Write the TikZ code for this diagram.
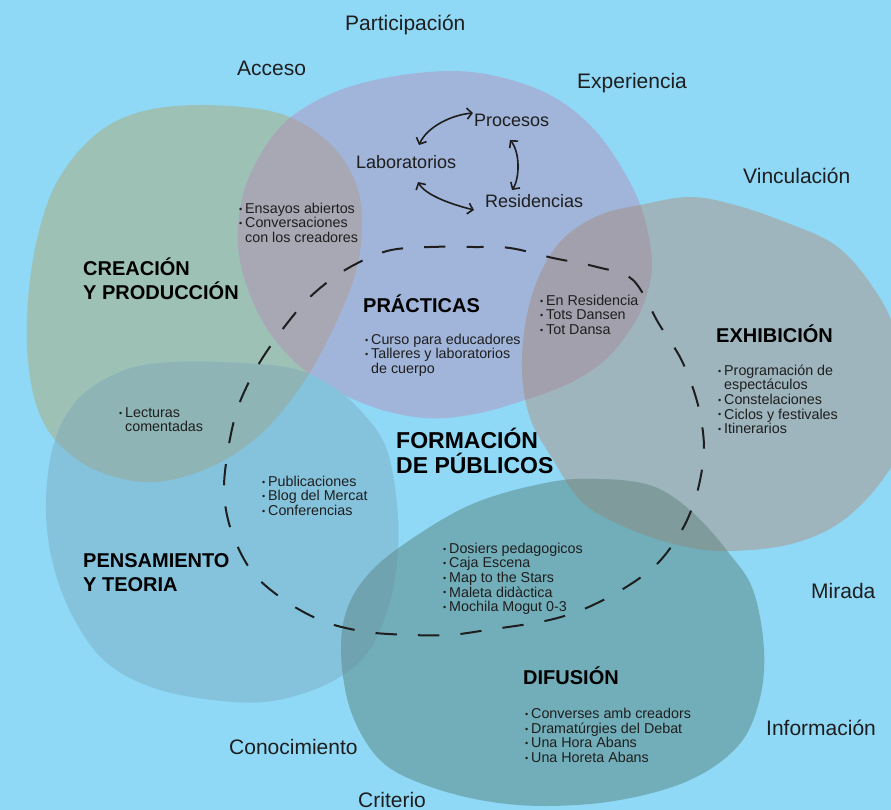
\documentclass[tikz,border=0pt]{standalone}
\usepackage{fontspec}
\setmainfont{Liberation Sans}
\usetikzlibrary{arrows.meta,calc}
\definecolor{bg}{HTML}{8FD8F6}
\definecolor{cgreen}{HTML}{9DC2B5}
\definecolor{cpurple}{HTML}{A1B4D9}
\definecolor{cgray}{HTML}{9EB5BD}
\definecolor{cblue}{HTML}{85C3DD}
\definecolor{cteal}{HTML}{72AEB9}
\definecolor{ogp}{HTML}{A8A8B4}
\definecolor{opg}{HTML}{A3A0AE}
\definecolor{ogb}{HTML}{8EB4B6}
\definecolor{ogt}{HTML}{7F9B9B}
\definecolor{obt}{HTML}{6FA3AF}
\definecolor{ink}{HTML}{1E1E1E}
\newcommand\bu{\makebox[6pt][l]{\raisebox{1.2pt}{\fontsize{9}{9}\selectfont •}}}
\newcommand\ind{\hspace*{6pt}}
\newcommand\sbl{\rule{0pt}{11pt}}
\newcommand\stt{\rule{0pt}{19pt}}
\def\pgreen{plot[smooth cycle,tension=0.6] coordinates {(200,105) (270,111) (310,128) (340,155) (358,190) (362,230) (355,275) (335,325) (305,380) (265,430) (215,465) (155,482) (100,472) (60,445) (38,410) (28,360) (28,300) (38,235) (58,180) (95,135) (140,112)}}
\def\ppurple{plot[smooth cycle,tension=0.6] coordinates {(290,118) (335,92) (390,77) (450,71) (500,77) (550,95) (590,125) (620,165) (642,210) (652,262) (645,300) (630,330) (605,360) (570,383) (525,400) (475,414) (425,418) (370,406) (315,378) (275,340) (250,295) (238,245) (243,195) (262,152)}}
\def\pgray{plot[smooth cycle,tension=0.6] coordinates {(640,205) (690,197) (735,205) (785,222) (835,245) (870,283) (895,330) (910,400) (895,460) (850,515) (795,543) (724,551) (670,543) (616,523) (580,500) (552,458) (530,418) (522,370) (527,315) (542,270) (565,237) (600,215)}}
\def\pblue{plot[smooth cycle,tension=0.6] coordinates {(220,362) (290,368) (330,385) (360,410) (385,445) (396,495) (398,550) (389,605) (368,652) (333,681) (283,699) (233,702) (160,690) (107,663) (73,617) (52,560) (46,500) (55,440) (80,397) (120,372) (160,363)}}
\def\pteal{plot[smooth cycle,tension=0.6] coordinates {(545,483) (598,479) (652,486) (692,512) (728,552) (753,590) (764,650) (759,702) (738,746) (690,780) (620,800) (545,806) (480,800) (420,783) (380,760) (353,717) (342,667) (344,620) (362,582) (400,547) (470,505)}}
\begin{document}
\begin{tikzpicture}[x=1pt,y=-1pt,
  outer/.style={font=\fontsize{21}{24}\selectfont, anchor=base west, inner sep=0pt, text=ink},
  inner/.style={font=\fontsize{18}{21}\selectfont, anchor=base west, inner sep=0pt, text=ink},
  ttl/.style={font=\bfseries\fontsize{20}{24.5}\selectfont, align=left, anchor=north west, inner sep=0pt, text=black},
  bigttl/.style={font=\bfseries\fontsize{23}{25}\selectfont, align=left, anchor=north west, inner sep=0pt, text=black},
  blist/.style={font=\fontsize{14.3}{14.6}\selectfont, align=left, anchor=north west, inner sep=0pt, text=ink},
  dbl/.style={{Straight Barb[length=5pt,width=11pt]}-{Straight Barb[length=5pt,width=11pt]}, line width=1.6pt, draw=ink}]
\useasboundingbox (0,0) rectangle (891,810);
\fill[bg] (0,0) rectangle (891,810);
\begin{scope}
  \clip (0,0) rectangle (891,810);
  \fill[cgreen] \pgreen;
  \fill[cpurple] \ppurple;
  \fill[cgray] \pgray;
  \fill[cblue] \pblue;
  \fill[cteal] \pteal;
  \begin{scope}\clip \pgreen; \fill[ogp] \ppurple; \fill[ogb] \pblue; \end{scope}
  \begin{scope}\clip \ppurple; \fill[opg] \pgray; \end{scope}
  \begin{scope}\clip \pgray; \fill[ogt] \pteal; \end{scope}
  \begin{scope}\clip \pblue; \fill[obt] \pteal; \end{scope}
\end{scope}
% dashed circle
\draw[line width=2pt, dash pattern=on 21.3pt off 21.2pt, dash phase=10.6pt, ink] plot[smooth cycle,tension=0.55] coordinates {(430,247) (473,247) (510,248) (553,258) (597,267) (633,280) (659,324) (682,361) (698,405) (704,449) (697,493) (682,530) (657,564) (623,589) (584,609) (545,621) (487,630) (450,635) (412,635) (367,632) (325,622) (287,602) (253,573) (232,533) (224,493) (228,450) (238,407) (257,367) (282,330) (310,297) (345,270) (387,251)};
% outer labels
\node[outer] (part) at (345,31) {Participación};
\node[outer] (acc) at (237,76) {Acceso};
\node[outer] (exp) at (577,89) {Experiencia};
\node[outer] (vinc) at (743,184) {Vinculación};
\node[outer] (mir) at (811,598) {Mirada};
\node[outer] (inf) at (766,735) {Información};
\node[outer] (cono) at (229,754) {Conocimiento};
\node[outer] (crit) at (358,807) {Criterio};
% titles
\node[ttl] (crea) at (83,256) {\stt CREACIÓN\\Y PRODUCCIÓN};
\node[ttl] (prac) at (363,293) {\stt PRÁCTICAS};
\node[ttl] (pens) at (83,548) {\stt PENSAMIENTO\\Y TEORIA};
\node[ttl] (exhib) at (716,323) {\stt EXHIBICIÓN};
\node[ttl] (difu) at (523,665) {\stt DIFUSIÓN};
\node[bigttl] (form) at (396,426) {\rule{0pt}{22pt}FORMACIÓN\\DE PÚBLICOS};
% bullet lists
\node[blist] (ens) at (239,202) {\sbl\bu Ensayos abiertos\\\bu Conversaciones\\\ind con los creadores};
\node[blist] (cur) at (365,333) {\sbl\bu Curso para educadores\\\bu Talleres y laboratorios\\\ind de cuerpo};
\node[blist] (enr) at (540,294) {\sbl\bu En Residencia\\\bu Tots Dansen\\\bu Tot Dansa};
\node[blist] (prog) at (718,364) {\sbl\bu Programación de\\\ind espectáculos\\\bu Constelaciones\\\bu Ciclos y festivales\\\bu Itinerarios};
\node[blist] (lect) at (119,406) {\sbl\bu Lecturas\\\ind comentadas};
\node[blist] (pub) at (262,475) {\sbl\bu Publicaciones\\\bu Blog del Mercat\\\bu Conferencias};
\node[blist] (dos) at (443,542) {\sbl\bu Dosiers pedagogicos\\\bu Caja Escena\\\bu Map to the Stars\\\bu Maleta didàctica\\\bu Mochila Mogut 0-3};
\node[blist] (conv) at (525,707.5) {\sbl\bu Converses amb creadors\\\bu Dramatúrgies del Debat\\\bu Una Hora Abans\\\bu Una Horeta Abans};
% cycle
\node[inner] (proc) at (474,127) {Procesos};
\node[inner] (lab) at (356,169) {Laboratorios};
\node[inner] (res) at (485,208) {Residencias};
\draw[dbl] ($(lab.base west)+(63,-24)$) .. controls +(8,-18) and +(-22,2) .. ($(proc.base west)+(-1,-14)$);
\draw[dbl] ($(proc.base west)+(36,13)$) .. controls +(10,12) and +(8,-12) .. ($(res.base west)+(27,-18)$);
\draw[dbl] ($(lab.base west)+(62,13)$) .. controls +(8,14) and +(-20,-5) .. ($(res.base west)+(-11,2)$);
\end{tikzpicture}
\end{document}
